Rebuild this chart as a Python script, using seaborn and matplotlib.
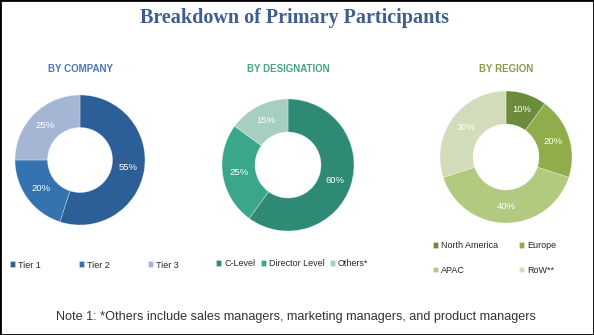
import matplotlib
matplotlib.use("Agg")
import matplotlib.pyplot as plt
import seaborn as sns
import numpy as np
from matplotlib.patches import Rectangle

sns.set_theme(style="white")
plt.rcParams['font.family'] = ['Liberation Sans', 'DejaVu Sans']

title = "Breakdown of Primary Participants"
note = "Note 1: *Others include sales managers, marketing managers, and product managers"

company_labels = ["Tier 1", "Tier 2", "Tier 3"]
company_values = [55, 20, 25]
company_colors = ["#2c5f98", "#3572b0", "#a5b6d4"]

designation_labels = ["C-Level", "Director Level", "Others*"]
designation_values = [60, 25, 15]
designation_colors = ["#2e8a75", "#3aa68a", "#a6cfc0"]

region_labels = ["North America", "Europe", "APAC", "RoW**"]
region_values = [10, 20, 40, 30]
region_colors = ["#6b8c3a", "#8fae4b", "#b2ca80", "#d2dcbb"]

W, H = 594, 335
fig = plt.figure(figsize=(W / 100, H / 100), dpi=100)
fig.patch.set_facecolor("white")
fig.add_artist(Rectangle((0, 0), 1, 1, transform=fig.transFigure, fill=False,
                         edgecolor="black", linewidth=2.0))

fig.text(295 / W, 1 - 18 / H, title, ha="center", va="center",
         fontsize=14.5, fontweight="bold", color="#3d5e8e",
         family=["Liberation Serif", "DejaVu Serif"])


def donut(cx, cy, r, values, labels, colors, subtitle, subcolor, suby):
    ax = fig.add_axes([(cx - r) / W, 1 - (cy + r) / H, 2 * r / W, 2 * r / H])
    pal = sns.color_palette(colors)
    wedges, _ = ax.pie(values, colors=pal, startangle=90, counterclock=False,
                       radius=1, wedgeprops=dict(width=0.5, linewidth=0.5, edgecolor=(1, 1, 1, 0.4)))
    total = sum(values)
    ang = 90.0
    for v in values:
        mid = ang - v / total * 360 / 2
        ang -= v / total * 360
        ax.text(0.75 * np.cos(np.radians(mid)), 0.75 * np.sin(np.radians(mid)),
                f"{v}%", ha="center", va="center", color="white", fontsize=6.8)
    ax.set_xlim(-1, 1)
    ax.set_ylim(-1, 1)
    ax.set_aspect("equal")
    ax.axis("off")
    fig.text(cx / W, 1 - suby / H, subtitle, ha="center", va="center",
             fontsize=7, fontweight="bold", color=subcolor)
    return wedges


w1 = donut(80, 160, 65, company_values, company_labels, company_colors,
           "BY COMPANY", "#4a78b5", 69)
w2 = donut(288, 165, 66, designation_values, designation_labels, designation_colors,
           "BY DESIGNATION", "#45a488", 69)
w3 = donut(506, 157, 66, region_values, region_labels, region_colors,
           "BY REGION", "#8a9a48", 69)


def put_legend(handles, labels, x, y, ncol, colsp, rowsp=0.4):
    fig.legend(handles, labels, loc="center left",
               bbox_to_anchor=(x / W, 1 - y / H), ncol=ncol, frameon=False,
               fontsize=6.5, handlelength=0.6, handleheight=0.6, handletextpad=0.3,
               columnspacing=colsp, labelspacing=rowsp, borderpad=0, borderaxespad=0)


put_legend(w1, company_labels, 10, 265, 3, 4.2)
put_legend(w2, designation_labels, 216, 264, 3, 0.6)
h3 = [w3[0], w3[2], w3[1], w3[3]]
l3 = [region_labels[0], region_labels[2], region_labels[1], region_labels[3]]
put_legend(h3, l3, 433, 258, 2, 2.3, rowsp=1.7)

fig.text(296 / W, 1 - 317 / H, note, ha="center", va="center", fontsize=9.1, color="#333333")

fig.savefig("out.png", dpi=100, facecolor="white")
